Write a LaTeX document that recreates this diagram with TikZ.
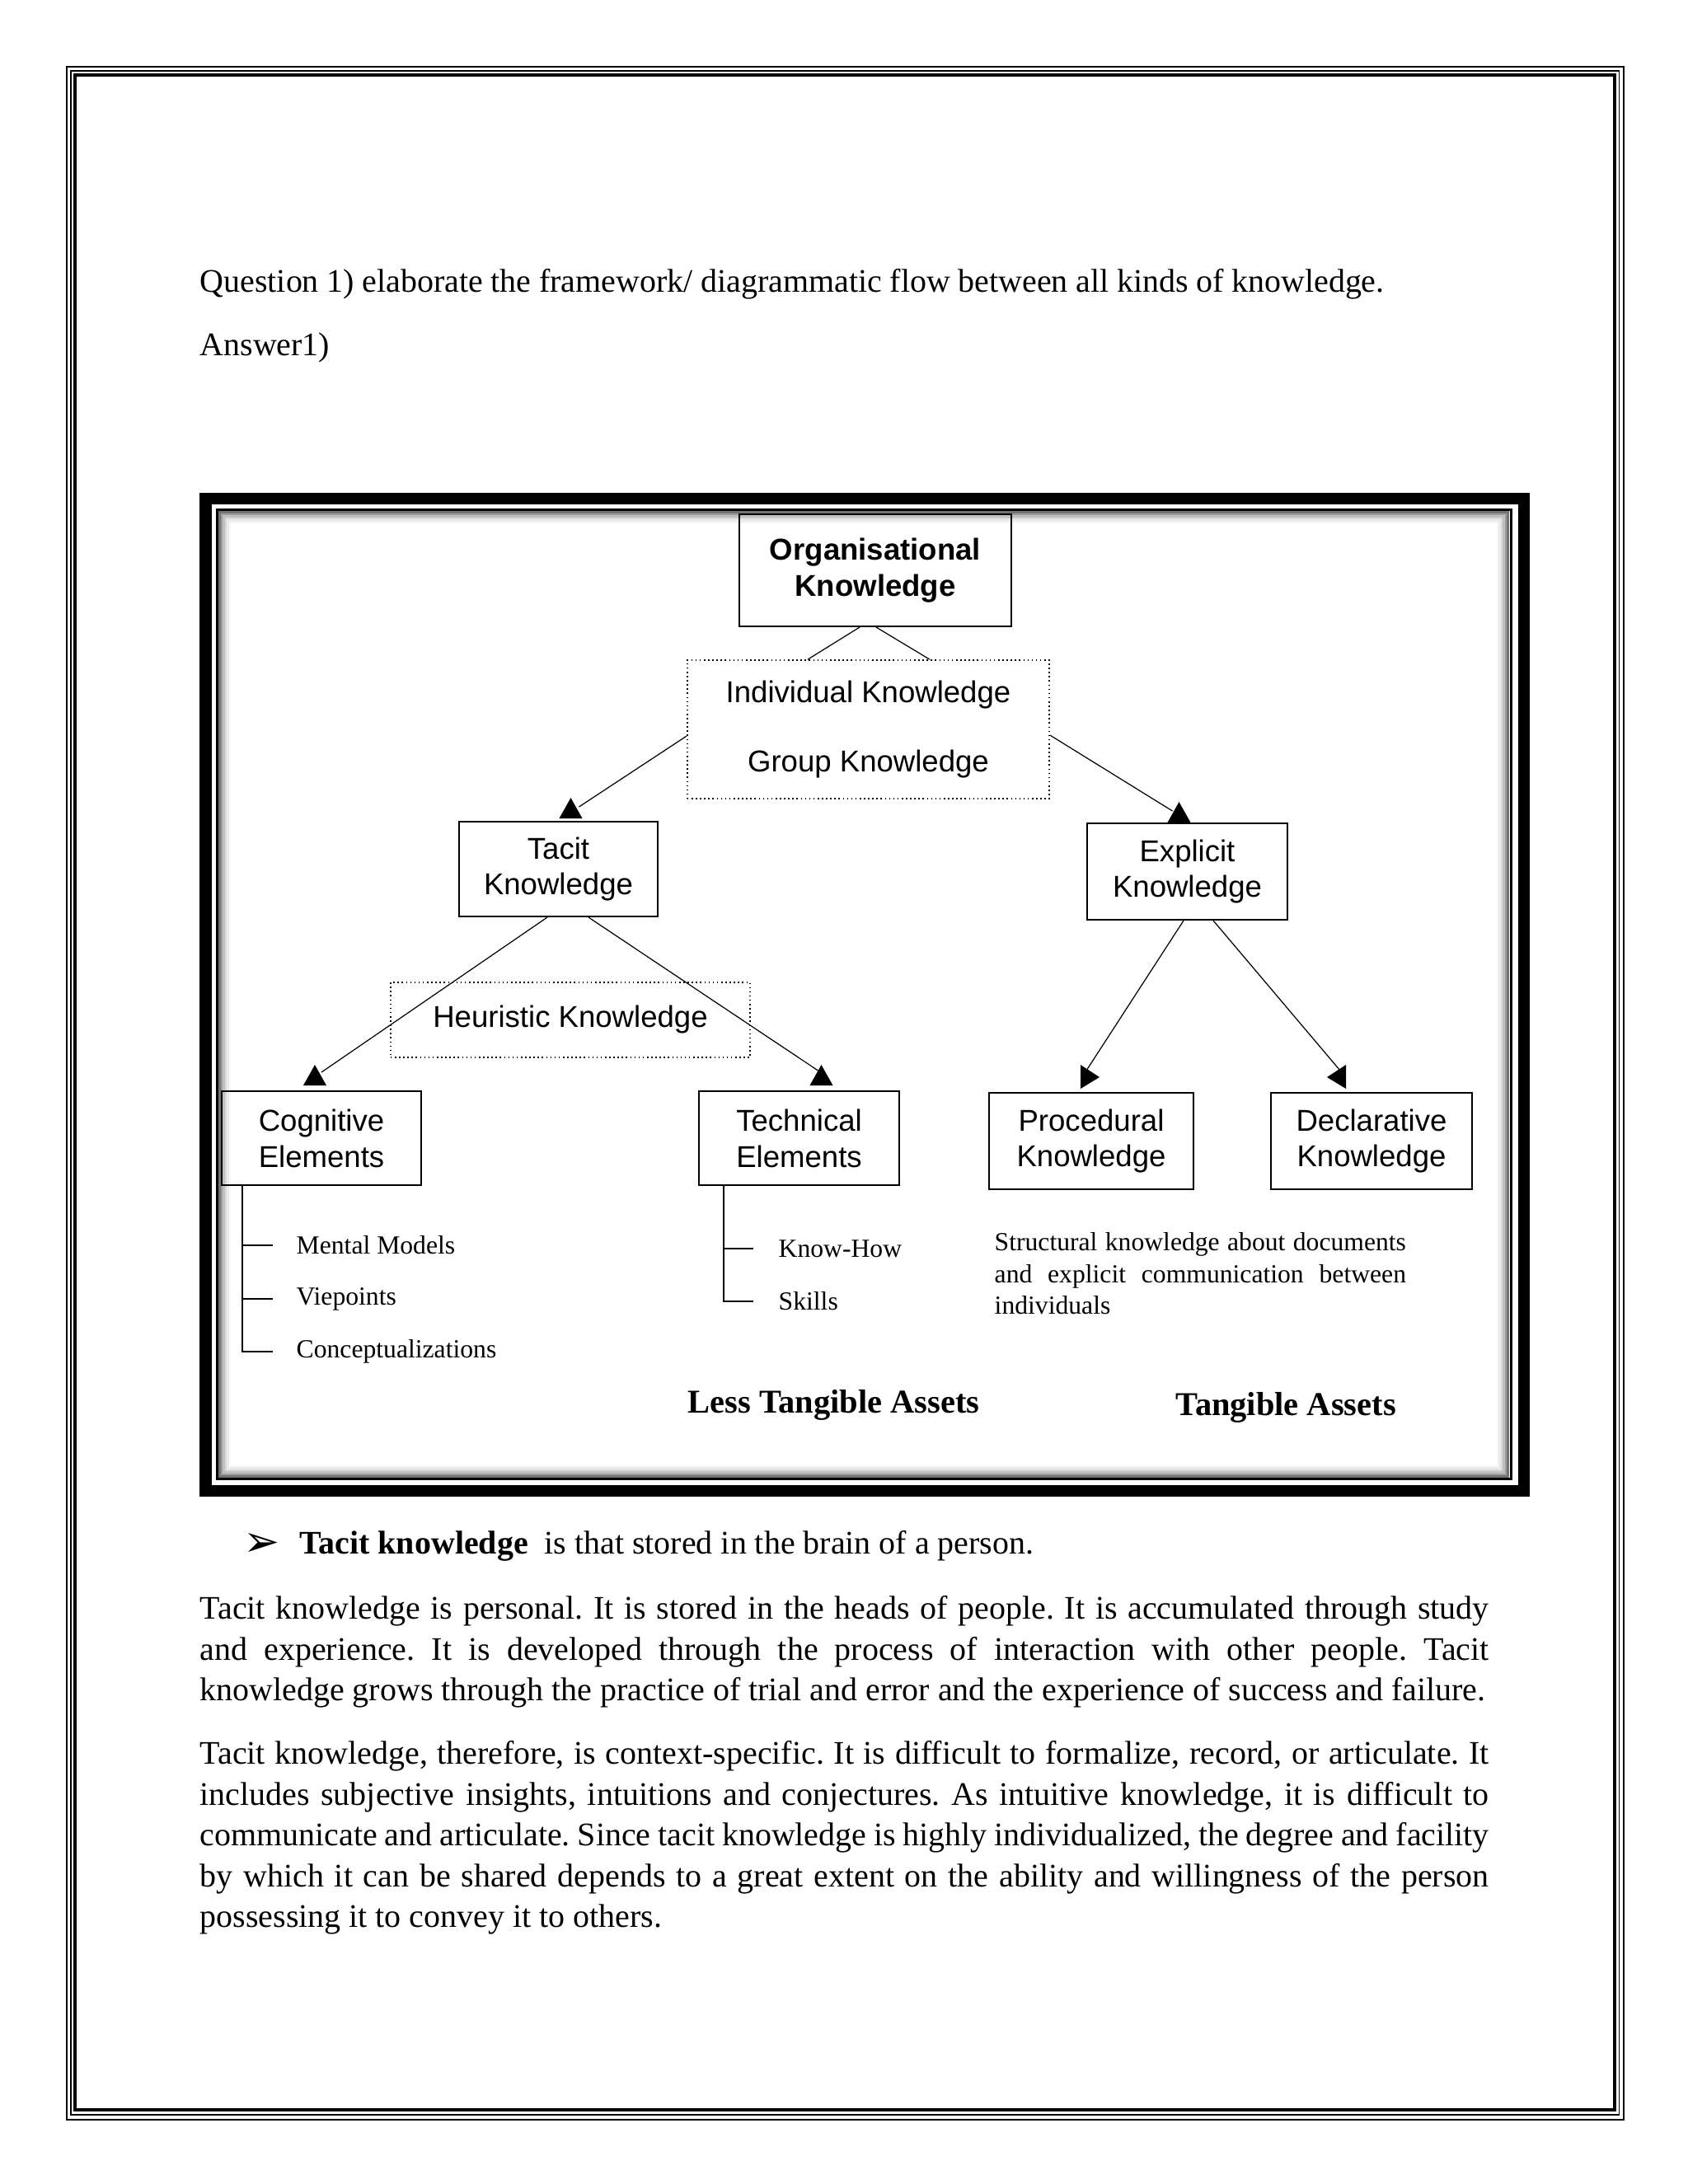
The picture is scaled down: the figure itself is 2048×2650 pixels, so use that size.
\documentclass[tikz,border=0pt]{standalone}
\usepackage{fontspec}
\setmainfont{Liberation Serif}
\setsansfont{Liberation Sans}
\newfontfamily\dingfont{DejaVu Sans}
\tolerance=9999
\hyphenpenalty=10000
\exhyphenpenalty=10000

\begin{document}
\begin{tikzpicture}[x=0.01cm, y=-0.01cm,
    kbox/.style={draw, line width=0.55pt, inner sep=0pt, align=center,
        font=\sffamily\fontsize{10.4}{12.5}\selectfont},
    dotbox/.style={draw, densely dotted, line width=0.45pt, inner sep=0pt, align=center,
        font=\sffamily\fontsize{10.4}{12.5}\selectfont},
    link/.style={line width=0.35pt},
    tree/.style={line width=0.5pt},
    item/.style={anchor=west, inner sep=0pt, font=\fontsize{9}{10.9}\selectfont},
    asset/.style={anchor=west, inner sep=0pt, font=\bfseries\fontsize{11.5}{14}\selectfont},
    body/.style={inner sep=0pt, font=\frenchspacing\fontsize{11.36}{14}\selectfont},
    para/.style={body, anchor=north west, text width=15.63cm, align=justify,
        font=\frenchspacing\fontsize{11.36}{14.05}\selectfont},
    tipup/.pic={\fill (0,0) -- (-14,25) -- (14,25) -- cycle;},
    tipright/.pic={\fill (0,0) -- (-23,-15) -- (-23,14) -- cycle;},
    tipleft/.pic={\fill (0,0) -- (23,-15) -- (23,14) -- cycle;}
]
    \fill[white] (0,0) rectangle (2048,2650);
    \useasboundingbox (0,0) rectangle (2048,2650);

    % page border
    \draw[line width=0.015cm] (81,81) rectangle (1970,2572);
    \draw[line width=0.015cm] (86,86) rectangle (1964.5,2566);
    \draw[line width=0.04cm] (91,91) rectangle (1959,2560);

    \node[body, anchor=west] (question) at (242,345) {\makebox[14.36cm][s]{Question 1) elaborate the framework/ diagrammatic flow between all kinds of knowledge.}};
    \node[body, anchor=west] (answer) at (242,422) {Answer1)};

    % diagram frame
    \draw[line width=0.14cm] (249.5,605) rectangle (1849,1809);
    \draw[line width=0.03cm] (263.5,618.5) rectangle (1833,1794.5);
    \foreach \d/\c in {1/55,2/38,3/25,4/15,5/8,6/3}
        \draw[black!\c, line width=0.025cm] (264+\d*2.5, 619+\d*2.5) rectangle (1832-\d*2.5, 1794-\d*2.5);

    \node[kbox, font=\sffamily\bfseries\fontsize{10.4}{12.6}\selectfont, minimum width=3.30cm, minimum height=1.36cm] (org) at (1062,692) {Organisational\\Knowledge};
    \node[dotbox, font=\sffamily\fontsize{10.4}{23.8}\selectfont, minimum width=4.39cm, minimum height=1.68cm] (grp) at (1053.5,885) {Individual Knowledge\\Group Knowledge};
    \node[kbox, minimum width=2.41cm, minimum height=1.15cm] (tacit) at (677.5,1054.5) {Tacit\\Knowledge};
    \node[kbox, minimum width=2.43cm, minimum height=1.17cm] (explicit) at (1440.5,1057.5) {Explicit\\Knowledge};
    \node[dotbox, minimum width=4.36cm, minimum height=0.91cm] (heur) at (692,1237.5) {Heuristic Knowledge};
    \node[kbox, minimum width=2.42cm, minimum height=1.14cm] (cog) at (390,1381) {Cognitive\\Elements};
    \node[kbox, minimum width=2.43cm, minimum height=1.14cm] (tech) at (969.5,1381) {Technical\\Elements};
    \node[kbox, minimum width=2.48cm, minimum height=1.17cm] (proc) at (1324,1384.5) {Procedural\\Knowledge};
    \node[kbox, minimum width=2.44cm, minimum height=1.17cm] (decl) at (1664,1384.5) {Declarative\\Knowledge};

    \draw[link] ([xshift=-0.19cm]org.south) -- ([xshift=-0.735cm]grp.north);
    \draw[link] ([xshift=0.01cm]org.south) -- ([xshift=0.745cm]grp.north);
    \draw[link] ([yshift=-0.08cm]grp.west) -- ([shift={(25,-17)}]tacit.north);
    \draw[link] ([yshift=-0.07cm]grp.east) -- ([shift={(-18,-14)}]explicit.north);
    \draw[link] ([xshift=-0.135cm]tacit.south) -- ([shift={(0,-22)}]cog.north);
    \draw[link] ([xshift=0.365cm]tacit.south) -- ([shift={(23,-24)}]tech.north);
    \draw[link] ([xshift=-0.045cm]explicit.south) -- ([shift={(-6,-26)}]proc.north);
    \draw[link] ([xshift=0.315cm]explicit.south) -- ([shift={(-38,-26)}]decl.north);

    \pic at ([shift={(15,-28)}]tacit.north) {tipup};
    \pic at ([shift={(-10,-25)}]explicit.north) {tipup};
    \pic at ([shift={(-8,-31)}]cog.north) {tipup};
    \pic at ([shift={(27,-31)}]tech.north) {tipup};
    \pic at ([shift={(10,-18)}]proc.north) {tipright};
    \pic at ([shift={(-54,-18)}]decl.north) {tipleft};

    % element lists
    \coordinate (cogtrunk) at ([xshift=0.26cm]cog.south west);
    \node[item] (mental) at (359,1511) {Mental Models};
    \node[item] (viewp) at (359,1576) {Viepoints};
    \node[item] (concept) at (359,1640) {Conceptualizations};
    \draw[tree] (cogtrunk) |- ([xshift=-0.28cm]concept.west);
    \foreach \n in {mental,viewp}
        \draw[tree] (cogtrunk |- \n.west) -- ([xshift=-0.28cm]\n.west);

    \coordinate (techtrunk) at ([xshift=0.31cm]tech.south west);
    \node[item] (knowhow) at (944,1515) {Know-How};
    \node[item] (skills) at (944,1579) {Skills};
    \draw[tree] (techtrunk) |- ([xshift=-0.30cm]skills.west);
    \draw[tree] (techtrunk |- knowhow.west) -- ([xshift=-0.30cm]knowhow.west);

    \node[item, anchor=north west, text width=4.99cm, align=justify] (struct) at (1206,1495) {Structural knowledge about documents\linebreak and explicit communication between\linebreak individuals};

    \node[asset] (lessta) at (834,1705) {Less Tangible Assets};
    \node[asset] (tanga) at (1426,1708) {Tangible Assets};

    % text below the diagram
    \node[inner sep=0pt, font=\dingfont\fontsize{15}{16}\selectfont] (bullet) at (318,1874) {➢};
    \node[body, anchor=west] (tacitpt) at (363,1876) {\textbf{Tacit knowledge}\ \ is that stored in the brain of a person.};
    \node[para] (parone) at (242,1936) {Tacit knowledge is personal. It is stored in the heads of people. It is accumulated through study\linebreak and experience. It is developed through the process of interaction with other people. Tacit\linebreak knowledge grows through the practice of trial and error and the experience of success and failure.};
    \node[para] (partwo) at (242,2112) {Tacit knowledge, therefore, is context-specific. It is difficult to formalize, record, or articulate. It\linebreak includes subjective insights, intuitions and conjectures. As intuitive knowledge, it is difficult to\linebreak communicate and articulate. Since tacit knowledge is highly individualized, the degree and facility\linebreak by which it can be shared depends to a great extent on the ability and willingness of the person\linebreak possessing it to convey it to others.};
\end{tikzpicture}
\end{document}
